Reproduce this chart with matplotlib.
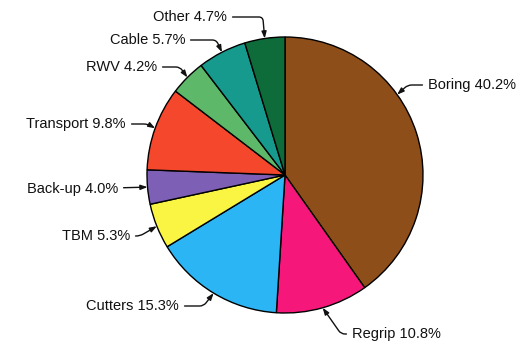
import numpy as np
import matplotlib.pyplot as plt

plt.rcParams['font.family'] = ['Liberation Sans', 'DejaVu Sans']

# data (clockwise from 12 o'clock)
labels = ['Boring', 'Regrip', 'Cutters', 'TBM', 'Back-up',
          'Transport', 'RWV', 'Cable', 'Other']
shares = [40.2, 10.8, 15.3, 5.3, 4.0, 9.8, 4.2, 5.7, 4.7]

colors = ['#8E4E1A', '#F5177A', '#2BB5F5', '#FAF542', '#7D5FB5',
          '#F4472C', '#5DB86A', '#179A8E', '#0E6B3A']

# figure is laid out in pixel units (y measured from the top, flipped below)
W, H = 518, 342
cx, cy, r = 285, 175, 138

# label anchor (x, y from top), alignment, leader angle at the pie, extra angle
label_pos = {
    'Boring':    (428, 85, 'left', 42, 18),
    'Regrip':    (352, 334, 'left', 125, 0),
    'Cutters':   (179, 306, 'right', 52, 0),
    'TBM':       (130, 236, 'right', 30, 0),
    'Back-up':   (118, 189, 'right', None, 0),
    'Transport': (126, 124, 'right', 150, 0),
    'RWV':       (157, 67, 'right', 126, 0),
    'Cable':     (185, 40, 'right', 115, 0),
    'Other':     (227, 17, 'right', 95, 0),
}

fig = plt.figure(figsize=(W / 100, H / 100), dpi=100)
ax = fig.add_axes([0, 0, 1, 1])

wedges, _ = ax.pie(shares, colors=colors, startangle=90, counterclock=False,
                   center=(cx, H - cy), radius=r,
                   wedgeprops=dict(edgecolor='black', linewidth=1.0))
ax.set_xlim(0, W)
ax.set_ylim(0, H)
ax.axis('off')

for w, name, val in zip(wedges, labels, shares):
    tx, ty, ha, angB, extra = label_pos[name]
    ang = np.deg2rad((w.theta1 + w.theta2) / 2 + extra)
    px = cx + r * np.cos(ang)
    py = (H - cy) + r * np.sin(ang)
    if angB is None:
        conn = 'arc3'
    else:
        conn = f'angle,angleA=0,angleB={angB},rad=4'
    ax.annotate(f'{name} {val:.1f}%', xy=(px, py), xytext=(tx, H - ty),
                ha=ha, va='center', fontsize=10.5, color='#111111',
                arrowprops=dict(arrowstyle='-|>,head_length=0.5,head_width=0.18',
                                color='#111111', lw=1.0, shrinkB=0,
                                connectionstyle=conn, mutation_scale=8))

plt.savefig('out.png', dpi=100)
